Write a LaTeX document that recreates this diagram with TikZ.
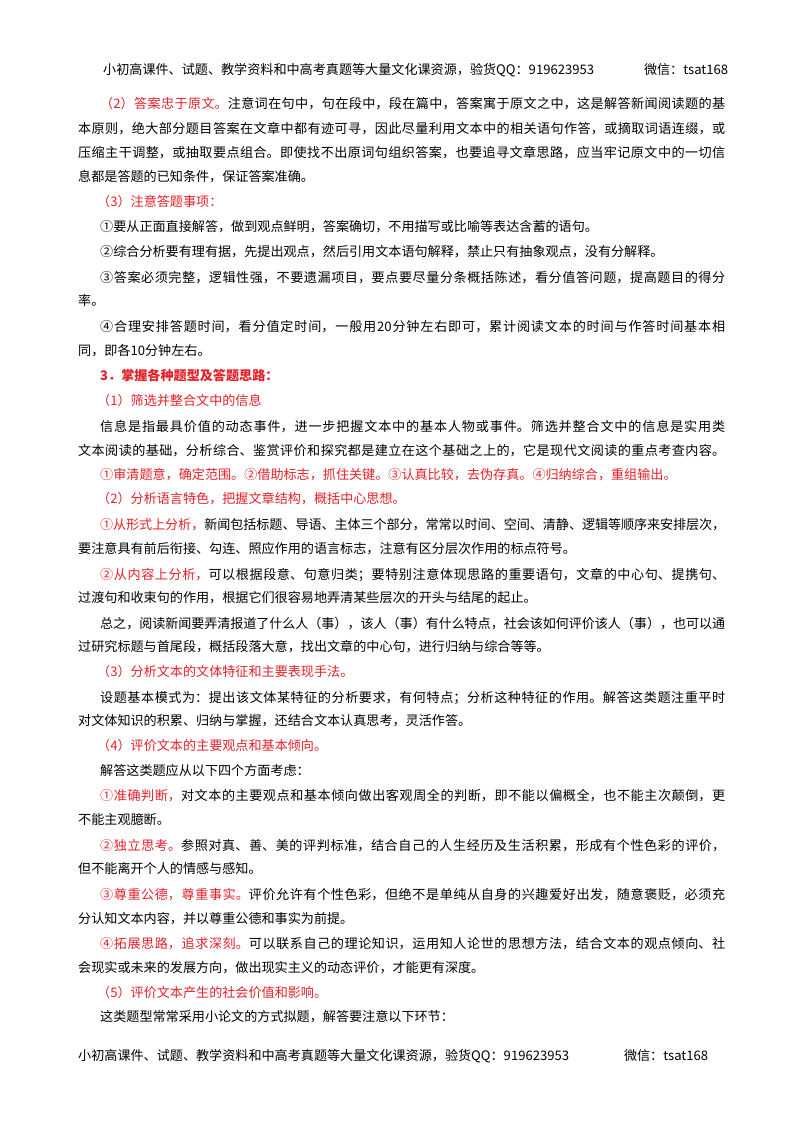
\documentclass[tikz,border=0pt]{standalone}
\usepackage{fontspec}
\setmainfont{Noto Sans CJK SC}
\definecolor{hred}{RGB}{228,32,40}
\XeTeXlinebreaklocale "zh"
\XeTeXlinebreakskip=0pt plus 3pt minus 1.5pt
\newcommand{\R}[1]{\textcolor{hred}{#1}}
\tikzset{ln/.style={anchor=base west,inner sep=0pt,font=\fontsize{13.1pt}{16pt}\selectfont}}
\newcommand{\Lf}[4]{\node[ln] (#1) at (#3,-#2) {\parbox{\dimexpr725pt-#3pt\relax}{\parfillskip=0pt\emergencystretch=20pt\noindent #4}};}
\newcommand{\Ln}[4]{\node[ln] (#1) at (#3,-#2) {#4};}
\begin{document}
\begin{tikzpicture}[x=1pt,y=1pt]
\useasboundingbox (0,0) rectangle (800,-1132);
\node[ln] (hd) at (103,-73) {\parbox{625pt}{\parfillskip=0pt\noindent 小初高课件、试题、教学资料和中高考真题等大量文化课资源，验货QQ：919623953\hfill 微信：tsat168}};
\Lf{l1}{107}{100}{\R{（2）答案忠于原文。}注意词在句中，句在段中，段在篇中，答案寓于原文之中，这是解答新闻阅读题的基}
\Lf{l2}{132}{78}{本原则，绝大部分题目答案在文章中都有迹可寻，因此尽量利用文本中的相关语句作答，或摘取词语连缀，或}
\Lf{l3}{156}{78}{压缩主干调整，或抽取要点组合。即使找不出原词句组织答案，也要追寻文章思路，应当牢记原文中的一切信}
\Ln{l4}{181}{78}{息都是答题的已知条件，保证答案准确。}
\Ln{l5}{206}{97}{\R{（3）注意答题事项：}}
\Ln{l6}{231}{100}{①要从正面直接解答，做到观点鲜明，答案确切，不用描写或比喻等表达含蓄的语句。}
\Ln{l7}{256}{100}{②综合分析要有理有据，先提出观点，然后引用文本语句解释，禁止只有抽象观点，没有分解释。}
\Lf{l8}{281}{100}{③答案必须完整，逻辑性强，不要遗漏项目，要点要尽量分条概括陈述，看分值答问题，提高题目的得分}
\Ln{l9}{305}{78}{率。}
\Lf{l10}{330}{100}{④合理安排答题时间，看分值定时间，一般用20分钟左右即可，累计阅读文本的时间与作答时间基本相}
\Ln{l11}{355}{78}{同，即各10分钟左右。}
\Ln{l12}{380}{100}{\R{\bfseries 3．掌握各种题型及答题思路：}}
\Ln{l13}{405}{97}{\R{（1）筛选并整合文中的信息}}
\Lf{l14}{430}{100}{信息是指最具价值的动态事件，进一步把握文本中的基本人物或事件。筛选并整合文中的信息是实用类}
\Lf{l15}{454}{78}{文本阅读的基础，分析综合、鉴赏评价和探究都是建立在这个基础之上的，它是现代文阅读的重点考查内容。}
\Ln{l16}{479}{100}{\R{①审清题意，确定范围。②借助标志，抓住关键。③认真比较，去伪存真。④归纳综合，重组输出。}}
\Ln{l17}{503}{97}{\R{（2）分析语言特色，把握文章结构，概括中心思想。}}
\Lf{l18}{528}{100}{\R{①从形式上分析，}新闻包括标题、导语、主体三个部分，常常以时间、空间、清静、逻辑等顺序来安排层次，}
\Ln{l19}{553}{78}{要注意具有前后衔接、勾连、照应作用的语言标志，注意有区分层次作用的标点符号。}
\Lf{l20}{578}{100}{\R{②从内容上分析，}可以根据段意、句意归类；要特别注意体现思路的重要语句，文章的中心句、提携句、}
\Ln{l21}{602}{78}{过渡句和收束句的作用，根据它们很容易地弄清某些层次的开头与结尾的起止。}
\Lf{l22}{627}{100}{总之，阅读新闻要弄清报道了什么人（事），该人（事）有什么特点，社会该如何评价该人（事），也可以通}
\Ln{l23}{651}{78}{过研究标题与首尾段，概括段落大意，找出文章的中心句，进行归纳与综合等等。}
\Ln{l24}{676}{97}{\R{（3）分析文本的文体特征和主要表现手法。}}
\Lf{l25}{701}{100}{设题基本模式为：提出该文体某特征的分析要求，有何特点；分析这种特征的作用。解答这类题注重平时}
\Ln{l26}{725}{78}{对文体知识的积累、归纳与掌握，还结合文本认真思考，灵活作答。}
\Ln{l27}{750}{97}{\R{（4）评价文本的主要观点和基本倾向。}}
\Ln{l28}{775}{100}{解答这类题应从以下四个方面考虑：}
\Lf{l29}{799}{100}{\R{①准确判断，}对文本的主要观点和基本倾向做出客观周全的判断，即不能以偏概全，也不能主次颠倒，更}
\Ln{l30}{824}{78}{不能主观臆断。}
\Lf{l31}{849}{100}{\R{②独立思考。}参照对真、善、美的评判标准，结合自己的人生经历及生活积累，形成有个性色彩的评价，}
\Ln{l32}{873}{78}{但不能离开个人的情感与感知。}
\Lf{l33}{898}{100}{\R{③尊重公德，尊重事实。}评价允许有个性色彩，但绝不是单纯从自身的兴趣爱好出发，随意褒贬，必须充}
\Ln{l34}{923}{78}{分认知文本内容，并以尊重公德和事实为前提。}
\Lf{l35}{947}{100}{\R{④拓展思路，追求深刻。}可以联系自己的理论知识，运用知人论世的思想方法，结合文本的观点倾向、社}
\Ln{l36}{972}{78}{会现实或未来的发展方向，做出现实主义的动态评价，才能更有深度。}
\Ln{l37}{997}{97}{\R{（5）评价文本产生的社会价值和影响。}}
\Ln{l38}{1021}{100}{这类题型常常采用小论文的方式拟题，解答要注意以下环节：}
\node[ln] (ft) at (78,-1059) {\parbox{630pt}{\parfillskip=0pt\noindent 小初高课件、试题、教学资料和中高考真题等大量文化课资源，验货QQ：919623953\hfill 微信：tsat168}};
\end{tikzpicture}
\end{document}
